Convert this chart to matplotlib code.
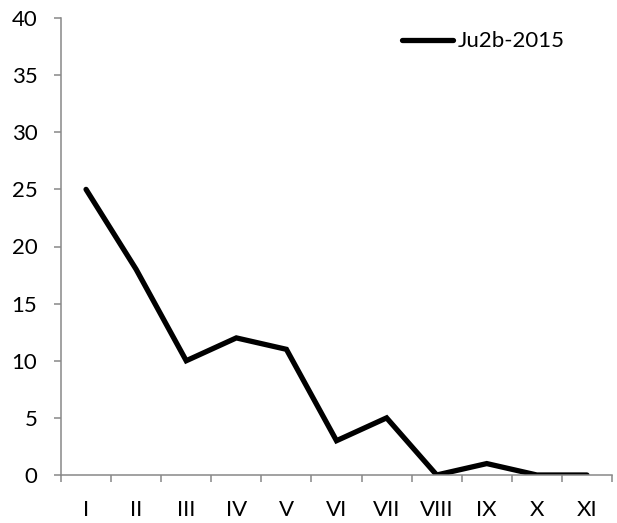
import matplotlib
matplotlib.use("Agg")
import matplotlib.pyplot as plt
import numpy as np

categories = ["I", "II", "III", "IV", "V", "VI", "VII", "VIII", "IX", "X", "XI"]
values = [25, 18, 10, 12, 11, 3, 5, 0, 1, 0, 0]
series_name = "Ju2b-2015"
yticks = [0, 5, 10, 15, 20, 25, 30, 35, 40]

plt.rcParams['font.family'] = ['Lato', 'DejaVu Sans']

fig = plt.figure(figsize=(6.17, 5.23), dpi=100)
ax = fig.add_axes([61/617, 48/523, 551/617, 457/523])

x = np.arange(len(categories))
ax.plot(x, values, color="black", linewidth=3.8, solid_capstyle="round",
        solid_joinstyle="miter", label=series_name)

ax.set_xlim(-0.5, len(categories) - 0.5)
ax.set_ylim(0, 40)
ax.set_yticks(yticks)
ax.set_yticklabels([str(v) for v in yticks])
ax.set_xticks(x)
ax.set_xticklabels(categories)
ax.set_xticks(np.arange(-0.5, len(categories), 1.0), minor=True)

spine_color = "#888888"
for s in ["top", "right"]:
    ax.spines[s].set_visible(False)
for s in ["left", "bottom"]:
    ax.spines[s].set_color(spine_color)
    ax.spines[s].set_linewidth(1.1)

ax.tick_params(axis="x", which="major", length=0, pad=18, labelsize=16)
ax.tick_params(axis="x", which="minor", length=5, width=1.1, color=spine_color, direction="out")
ax.tick_params(axis="y", which="major", length=5, width=1.1, color=spine_color,
               direction="out", pad=12, labelsize=16)

leg = ax.legend(loc="upper left", bbox_to_anchor=(328/551, 1.0), frameon=False,
                fontsize=16, handlelength=2.3, handletextpad=0.2, borderaxespad=0.2)

fig.savefig("out.png", dpi=100)
